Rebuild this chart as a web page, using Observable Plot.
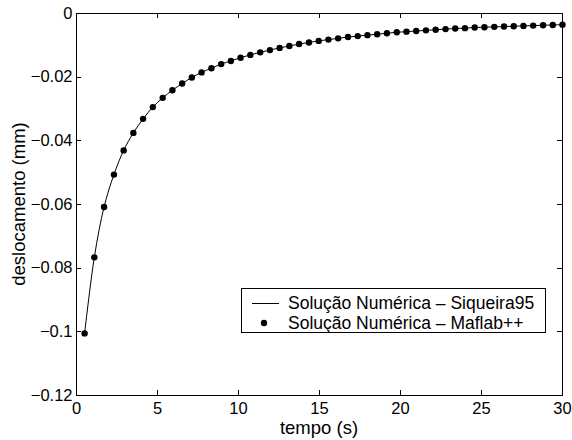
<!DOCTYPE html>
<html>
<head>
<meta charset="utf-8">
<script src="https://cdn.jsdelivr.net/npm/d3@7"></script>
<script src="https://cdn.jsdelivr.net/npm/@observablehq/plot@0.6"></script>
<style>
  body { margin: 0; background: #fff; }
  svg { display: block; }
</style>
</head>
<body>
<div id="chart"></div>
<script>
// Time steps (s)
const tempo = [
  0.50, 1.10, 1.70, 2.31, 2.91, 3.51, 4.11, 4.71, 5.32, 5.92,
  6.52, 7.12, 7.72, 8.33, 8.93, 9.53, 10.13, 10.73, 11.34, 11.94,
  12.54, 13.14, 13.74, 14.35, 14.95, 15.55, 16.15, 16.76, 17.36, 17.96,
  18.56, 19.16, 19.77, 20.37, 20.97, 21.57, 22.17, 22.78, 23.38, 23.98,
  24.58, 25.18, 25.79, 26.39, 26.99, 27.59, 28.19, 28.80, 29.40, 30.00
];

// Displacement (mm)
const deslocamento = [
  -0.1005, -0.0766, -0.0608, -0.0506, -0.0430, -0.0375, -0.0331, -0.0294, -0.0265, -0.0241,
  -0.0220, -0.0201, -0.0185, -0.0172, -0.0159, -0.0149, -0.0139, -0.0130, -0.0122, -0.0115,
  -0.0108, -0.0102, -0.0096, -0.0091, -0.0086, -0.0082, -0.0078, -0.0074, -0.0071, -0.0068,
  -0.0065, -0.0062, -0.0059, -0.0057, -0.0055, -0.0053, -0.0051, -0.0049, -0.0047, -0.0046,
  -0.0044, -0.0043, -0.0042, -0.0041, -0.0040, -0.0039, -0.0038, -0.0037, -0.0036, -0.0035
];

const xTicks = [0, 5, 10, 15, 20, 25, 30];
const yTicks = [0, -0.02, -0.04, -0.06, -0.08, -0.1, -0.12];
const seriesNames = ["Solução Numérica – Siqueira95", "Solução Numérica – Maflab++"];
const xLabel = "tempo (s)";
const yLabel = "deslocamento (mm)";

const rows = tempo.map((t, i) => ({t, d: deslocamento[i]}));
const font = "'Liberation Sans', Arial, Helvetica, sans-serif";
const fmt = d3.format("~g");

const chart = Plot.plot({
  width: 572,
  height: 440,
  marginLeft: 76,
  marginRight: 10,
  marginTop: 13,
  marginBottom: 45,
  style: {fontFamily: font, fontSize: "16.5px", color: "black", background: "white", overflow: "visible"},
  x: {domain: [0, 30]},
  y: {domain: [-0.12, 0]},
  marks: [
    Plot.axisX(xTicks, {anchor: "bottom", tickSize: 0, tickPadding: 7, label: null, tickFormat: fmt}),
    Plot.axisY(yTicks, {anchor: "left", tickSize: 0, tickPadding: 4, label: null, tickFormat: fmt}),
    Plot.frame({stroke: "black", strokeWidth: 1}),
    Plot.line(rows, {x: "t", y: "d", stroke: "black", strokeWidth: 1, curve: "catmull-rom"}),
    Plot.dot(rows, {x: "t", y: "d", r: 3.2, fill: "black", stroke: null})
  ]
});

const svg = d3.select(chart);
const xs = chart.scale("x"), ys = chart.scale("y");
const [x0, x1] = xs.range, [y0, y1] = ys.range; // y0 bottom, y1 top
const tickLen = 5;

// Inward ticks on all four sides of the box
const ticks = svg.append("g")
  .attr("fill", "none")
  .attr("stroke", "black")
  .attr("stroke-width", 1);
const tickPath = [];
for (const v of xTicks) {
  const px = Math.round(xs.apply(v)) + 0.5;
  tickPath.push(`M${px},${y0}V${y0 - tickLen}`, `M${px},${y1}V${y1 + tickLen}`);
}
for (const v of yTicks) {
  const py = Math.round(ys.apply(v)) + 0.5;
  tickPath.push(`M${x0},${py}H${x0 + tickLen}`, `M${x1},${py}H${x1 - tickLen}`);
}
ticks.append("path").attr("d", tickPath.join(""));

// Axis titles
const titles = svg.append("g")
  .attr("font-family", font)
  .attr("font-size", 18.5)
  .attr("text-anchor", "middle")
  .attr("fill", "black");
titles.append("text")
  .attr("x", (x0 + x1) / 2).attr("y", 434)
  .text(xLabel);
titles.append("text")
  .attr("transform", `translate(25,${(y0 + y1) / 2}) rotate(-90)`)
  .text(yLabel);

// Legend box in the lower right of the axes
const lg = svg.append("g")
  .attr("font-family", font)
  .attr("font-size", 17.5)
  .attr("text-anchor", "start")
  .attr("fill", "black");
lg.append("rect")
  .attr("x", 241.5).attr("y", 288.5)
  .attr("width", 304).attr("height", 44)
  .attr("fill", "white").attr("stroke", "black");
lg.append("line")
  .attr("x1", 252).attr("x2", 279).attr("y1", 303.5).attr("y2", 303.5)
  .attr("stroke", "black");
lg.append("circle")
  .attr("cx", 264).attr("cy", 323).attr("r", 3.2).attr("fill", "black");
lg.selectAll("text.entry")
  .data(seriesNames)
  .join("text")
  .attr("class", "entry")
  .attr("x", 288)
  .attr("y", (d, i) => 303 + i * 20)
  .attr("dy", "0.35em")
  .text(d => d);

document.getElementById("chart").appendChild(chart);
</script>
</body>
</html>
